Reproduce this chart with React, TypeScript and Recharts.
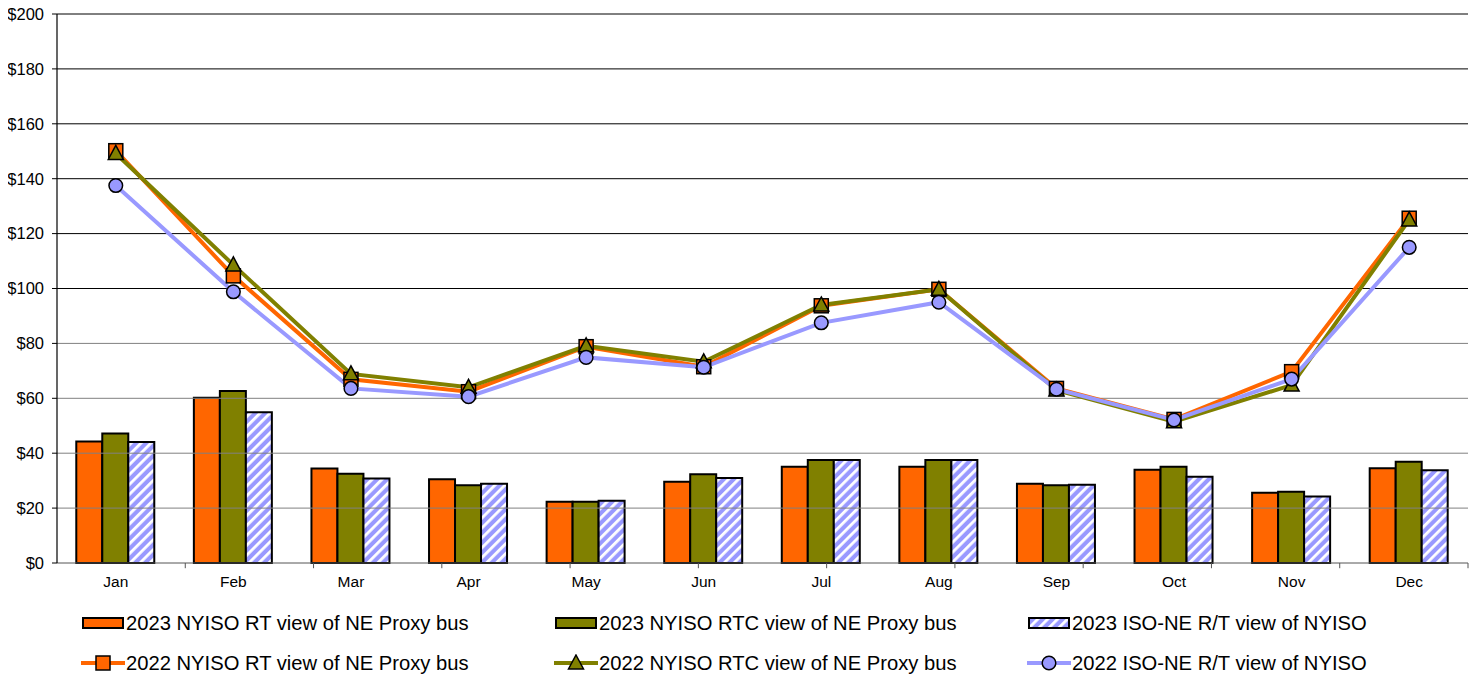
import React from 'react';
import {
  ComposedChart, Bar, Line, XAxis, YAxis, ReferenceLine, Legend,
} from 'recharts';

const months = ['Jan', 'Feb', 'Mar', 'Apr', 'May', 'Jun', 'Jul', 'Aug', 'Sep', 'Oct', 'Nov', 'Dec'];
const rt2023 = [44.3, 60.2, 34.4, 30.5, 22.3, 29.6, 35.1, 35.1, 28.9, 34.0, 25.6, 34.5];
const rtc2023 = [47.2, 62.7, 32.5, 28.3, 22.3, 32.3, 37.5, 37.5, 28.3, 35.1, 26.0, 36.9];
const iso2023 = [44.1, 54.9, 30.8, 28.9, 22.7, 31.0, 37.5, 37.5, 28.5, 31.4, 24.2, 33.8];
const rt2022 = [150.2, 104.6, 66.9, 62.4, 78.8, 71.5, 93.7, 99.7, 63.6, 52.3, 69.7, 125.6];
const rtc2022 = [149.2, 108.6, 68.9, 64.0, 79.1, 73.3, 94.0, 99.7, 63.0, 51.5, 64.8, 125.0];
const iso2022 = [137.5, 98.8, 63.6, 60.6, 74.9, 71.3, 87.5, 95.0, 63.3, 52.1, 67.0, 115.0];
const yTicks = [0, 20, 40, 60, 80, 100, 120, 140, 160, 180, 200];
const boundaryTicks = [1, 2, 3, 4, 5, 6, 7, 8, 9, 10, 11];

const names = {
  rt2023: '2023 NYISO RT view of NE Proxy bus',
  rtc2023: '2023 NYISO RTC view of NE Proxy bus',
  iso2023: '2023 ISO-NE R/T view of NYISO',
  rt2022: '2022 NYISO RT view of NE Proxy bus',
  rtc2022: '2022 NYISO RTC view of NE Proxy bus',
  iso2022: '2022 ISO-NE R/T view of NYISO',
};

const ORANGE = '#FF6600';
const OLIVE = '#808000';
const LAV = '#9999FF';

const data = months.map((m, i) => ({
  month: m,
  rt2023: rt2023[i],
  rtc2023: rtc2023[i],
  iso2023: iso2023[i],
  rt2022: rt2022[i],
  rtc2022: rtc2022[i],
  iso2022: iso2022[i],
}));

const SquareDot = (props: any) => {
  const { cx, cy } = props;
  if (cx == null || cy == null) return null;
  return <rect x={cx - 7} y={cy - 7} width={14} height={14} fill={ORANGE} stroke="#000" strokeWidth={1.5} />;
};
const TriangleDot = (props: any) => {
  const { cx, cy } = props;
  if (cx == null || cy == null) return null;
  return (
    <polygon
      points={`${cx},${cy - 8} ${cx + 7.5},${cy + 6} ${cx - 7.5},${cy + 6}`}
      fill={OLIVE}
      stroke="#000"
      strokeWidth={1.5}
    />
  );
};
const CircleDot = (props: any) => {
  const { cx, cy } = props;
  if (cx == null || cy == null) return null;
  return <circle cx={cx} cy={cy} r={6.8} fill={LAV} stroke="#000" strokeWidth={1.5} />;
};

const HatchDef = ({ id }: { id: string }) => (
  <pattern id={id} patternUnits="userSpaceOnUse" width="7" height="7" patternTransform="rotate(45)">
    <rect width="7" height="7" fill={LAV} />
    <rect width="2.8" height="7" fill="#fff" />
  </pattern>
);

const BarIcon = ({ fill }: { fill: string }) => (
  <svg width={42} height={12} style={{ display: 'block' }}>
    <defs>
      <HatchDef id="hatchLegend" />
    </defs>
    <rect x={1} y={1} width={40} height={10} fill={fill} stroke="#000" strokeWidth={2} />
  </svg>
);

const LineIcon = ({ color, kind }: { color: string; kind: string }) => (
  <svg width={44} height={18} style={{ display: 'block' }}>
    <line x1={0} y1={9} x2={44} y2={9} stroke={color} strokeWidth={4} />
    {kind === 'square' && <SquareDot cx={22} cy={9} />}
    {kind === 'triangle' && <TriangleDot cx={22} cy={9} />}
    {kind === 'circle' && <CircleDot cx={22} cy={9} />}
  </svg>
);

const legendRows = [
  [
    { key: 'rt2023', type: 'bar', fill: ORANGE },
    { key: 'rtc2023', type: 'bar', fill: OLIVE },
    { key: 'iso2023', type: 'bar', fill: 'url(#hatchLegend)' },
  ],
  [
    { key: 'rt2022', type: 'line', color: ORANGE, kind: 'square' },
    { key: 'rtc2022', type: 'line', color: OLIVE, kind: 'triangle' },
    { key: 'iso2022', type: 'line', color: LAV, kind: 'circle' },
  ],
];

const LegendBox = () => (
  <div style={{ position: 'relative', width: 1472, height: 72, fontSize: 20.2, color: '#000' }}>
    {legendRows.map((row, r) =>
      row.map((item: any, c) => (
        <div
          key={item.key}
          style={{
            position: 'absolute',
            left: (item.type === 'bar' ? 74 : 73) + c * 473,
            top: r * 40,
            height: 34,
            display: 'flex',
            alignItems: 'center',
            whiteSpace: 'nowrap',
          }}
        >
          {item.type === 'bar' ? <BarIcon fill={item.fill} /> : <LineIcon color={item.color} kind={item.kind} />}
          <span style={{ marginLeft: item.type === 'bar' ? 2 : 1 }}>{(names as any)[item.key]}</span>
        </div>
      ))
    )}
  </div>
);

export default function App() {
  return (
    <div
      style={{
        width: 1472,
        height: 678,
        marginTop: -8,
        borderRight: '2px solid #000',
        fontFamily: '"Liberation Sans", Arial, sans-serif',
      }}
    >
      <ComposedChart
        width={1472}
        height={678}
        data={data}
        margin={{ top: 14, right: 12, bottom: 85, left: 0 }}
        barCategoryGap="16.4%"
        barGap={0}
      >
        <defs>
          <HatchDef id="hatch" />
        </defs>
        {yTicks.filter((v) => v > 0).map((v) => (
          <ReferenceLine key={v} y={v} stroke={v >= 100 ? '#000' : '#808080'} strokeWidth={1} />
        ))}
        <XAxis
          dataKey="month"
          height={30}
          tickSize={0}
          tickMargin={13}
          tickLine={false}
          axisLine={{ stroke: '#555', strokeWidth: 1 }}
          tick={{ fontSize: 15.5, fill: '#000' }}
          interval={0}
        />
        <XAxis xAxisId="sep" type="number" domain={[0, 12]} ticks={boundaryTicks} hide allowDataOverflow />
        {boundaryTicks.map((k) => (
          <ReferenceLine
            key={`b${k}`}
            xAxisId="sep"
            segment={[{ x: k, y: 0 }, { x: k, y: -1.9 }]}
            stroke="#555"
            strokeWidth={1}
            ifOverflow="visible"
          />
        ))}
        <YAxis
          width={49}
          domain={[0, 200]}
          ticks={yTicks}
          tickFormatter={(v) => `$${v}`}
          tickSize={5}
          tickMargin={8}
          axisLine={{ stroke: '#000', strokeWidth: 1.2 }}
          tickLine={{ stroke: '#000' }}
          tick={{ fontSize: 16.5, fill: '#000' }}
          interval={0}
        />
        <YAxis
          yAxisId="r"
          orientation="right"
          width={0}
          domain={[0, 200]}
          tick={false}
          tickLine={false}
          axisLine={{ stroke: '#888', strokeWidth: 1.5 }}
        />
        <Bar dataKey="rt2023" name={names.rt2023} fill={ORANGE} stroke="#000" strokeWidth={2} isAnimationActive={false} />
        <Bar dataKey="rtc2023" name={names.rtc2023} fill={OLIVE} stroke="#000" strokeWidth={2} isAnimationActive={false} />
        <Bar dataKey="iso2023" name={names.iso2023} fill="url(#hatch)" stroke="#000" strokeWidth={2} isAnimationActive={false} />
        <Line dataKey="rt2022" name={names.rt2022} stroke={ORANGE} strokeWidth={4} dot={<SquareDot />} activeDot={false} isAnimationActive={false} />
        <Line dataKey="rtc2022" name={names.rtc2022} stroke={OLIVE} strokeWidth={4} dot={<TriangleDot />} activeDot={false} isAnimationActive={false} />
        <Line dataKey="iso2022" name={names.iso2022} stroke={LAV} strokeWidth={4} dot={<CircleDot />} activeDot={false} isAnimationActive={false} />
        <Legend
          layout="horizontal"
          verticalAlign="middle"
          wrapperStyle={{ top: 606, left: 0, width: 1472, height: 72 }}
          content={() => <LegendBox />}
        />
      </ComposedChart>
    </div>
  );
}
